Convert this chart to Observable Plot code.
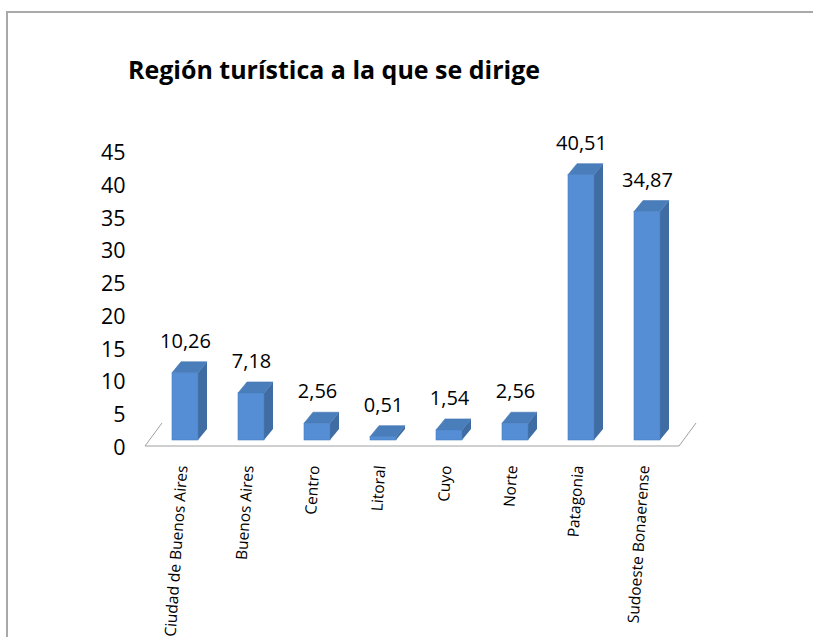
<!DOCTYPE html>
<html>
<head>
<meta charset="utf-8">
<script src="https://cdn.jsdelivr.net/npm/d3@7"></script>
<script src="https://cdn.jsdelivr.net/npm/@observablehq/plot@0.6"></script>
<style>
  html, body { margin: 0; padding: 0; background: #fff; }
  #wrap { position: relative; width: 813px; height: 637px; overflow: hidden; background: #fff; }
  #bt { position: absolute; left: 6px; top: 11px; width: 820px; height: 0; border-top: 2px solid #a9a9a9; }
  #bl { position: absolute; left: 6px; top: 11px; width: 0; height: 640px; border-left: 2px solid #a9a9a9; }
  #chart { position: absolute; left: 0; top: 0; }
</style>
</head>
<body>
<div id="wrap"><div id="bt"></div><div id="bl"></div><div id="chart"></div></div>
<script>
const title = "Región turística a la que se dirige";
const categories = ["Ciudad de Buenos Aires", "Buenos Aires", "Centro", "Litoral", "Cuyo", "Norte", "Patagonia", "Sudoeste Bonaerense"];
const values = [10.26, 7.18, 2.56, 0.51, 1.54, 2.56, 40.51, 34.87];
const valueLabels = ["10,26", "7,18", "2,56", "0,51", "1,54", "2,56", "40,51", "34,87"];
const yTicks = [0, 5, 10, 15, 20, 25, 30, 35, 40, 45];

const rows = categories.map((c, i) => ({region: c, value: values[i], label: valueLabels[i]}));

const FRONT = "#558ed5", TOP = "#4a7ebb", SIDE = "#3f6ca3";
const DX = 9, DY = -11;

function bw(x) {
  const b = x.bandwidth;
  return typeof b === "function" ? b.call(x) : b;
}

function faces(index, scales, values, dimensions) {
  const x = scales.x, y = scales.y;
  const w = bw(x);
  const g = d3.create("svg:g");
  for (const i of index) {
    const x0 = x(rows[i].region), x1 = x0 + w;
    const yb = y(0), yt = y(rows[i].value);
    g.append("path")
      .attr("d", `M${x1},${yt}L${x1 + DX},${yt + DY}L${x1 + DX},${yb + DY}L${x1},${yb}Z`)
      .attr("fill", SIDE);
    g.append("path")
      .attr("d", `M${x0},${yt}L${x1},${yt}L${x1 + DX},${yt + DY}L${x0 + DX},${yt + DY}Z`)
      .attr("fill", TOP).attr("stroke", "#4577b3").attr("stroke-width", 0.6);
  }
  return g.node();
}

function floor(index, scales, values, dimensions) {
  const {marginLeft, marginRight, width} = dimensions;
  const yf = scales.y(0) + 6;
  const l = marginLeft - 4, r = width - marginRight - 4;
  const g = d3.create("svg:g").attr("fill", "none").attr("stroke", "#a0a0a0").attr("stroke-width", 1);
  g.append("path").attr("d", `M${l + 17},${yf - 23}L${l},${yf}L${r},${yf}L${r + 17},${yf - 23}`);
  return g.node();
}

const chart = Plot.plot({
  width: 813,
  height: 637,
  marginLeft: 149,
  marginRight: 130,
  marginTop: 0,
  marginBottom: 0,
  style: {fontFamily: "'Open Sans', sans-serif", background: "transparent", color: "#000"},
  x: {domain: categories, paddingInner: 0.6, paddingOuter: 0.3, axis: null},
  y: {domain: [0, 45], range: [440, 145.25], axis: null},
  marks: [
    Plot.ruleY([0], {render: floor}),
    Plot.barY(rows, {x: "region", y: "value", render: faces}),
    Plot.barY(rows, {x: "region", y: "value", fill: FRONT, stroke: "#4b80c2", strokeWidth: 0.6}),
    Plot.text(rows, {x: "region", y: "value", text: "label", dy: -32, fontSize: 20, fill: "#000"}),
    Plot.text(rows, {x: "region", y: () => 0, text: "region", rotate: -86, textAnchor: "end", lineAnchor: "middle", dy: 25, dx: -3, fontSize: 15.5, fill: "#000"}),
    Plot.axisY({ticks: yTicks, tickSize: 0, tickPadding: 24, dy: 7.5, fontSize: 21.5, tickFormat: d => String(d), label: null})
  ]
});

const svg = d3.select(chart);
svg.append("text")
  .attr("x", 128).attr("y", 79)
  .attr("text-anchor", "start")
  .attr("font-family", "'Open Sans', sans-serif")
  .attr("font-weight", "bold")
  .attr("font-size", 25)
  .attr("fill", "#000")
  .attr("textLength", 412)
  .attr("lengthAdjust", "spacingAndGlyphs")
  .text(title);

document.getElementById("chart").appendChild(chart);
</script>
</body>
</html>
